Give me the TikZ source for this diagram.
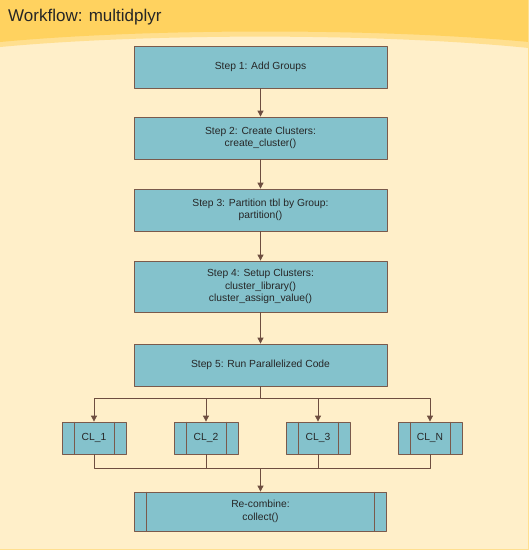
\documentclass[tikz,border=0pt]{standalone}
\usepackage{fontspec}
\setmainfont{Liberation Sans}
\usetikzlibrary{arrows.meta}
\definecolor{hdr}{HTML}{FFD25F}
\definecolor{hdrlight}{HTML}{FFDF8F}
\definecolor{paper}{HTML}{FFEFC9}
\definecolor{boxfill}{HTML}{84C2CC}
\definecolor{boxline}{HTML}{7A5A4C}
\definecolor{wirecol}{HTML}{6E4E40}
\tikzset{
	stepbox/.style={draw=boxline, fill=boxfill, line width=0.8pt, minimum width=253pt, minimum height=42pt, inner sep=0pt, align=center, text=black!85, font=\fontsize{10.3}{12.5}\selectfont},
	clbox/.style={stepbox, minimum width=64pt, minimum height=32pt},
	wire/.style={draw=wirecol, line width=0.8pt},
	flow/.style={wire, -{Triangle[width=6pt,length=6pt]}}
}
\begin{document}
\begin{tikzpicture}[x=1pt, y=-1pt, line join=round]
	\useasboundingbox (0,0) rectangle (529,550);
	% background and header band
	\fill[paper] (0,0) rectangle (529,550);
	\fill[hdrlight] (0,0) -- (0,47) .. controls (150,33) and (380,33) .. (529,48) -- (529,0) -- cycle;
	\fill[hdr] (0,0) -- (0,42) .. controls (150,28) and (380,28) .. (529,42) -- (529,0) -- cycle;
	\draw[hdrlight] (528.5,0) -- (528.5,549.5) -- (0,549.5);
	\node[anchor=base west, inner sep=0pt, text=black!85, font=\fontsize{17}{20}\selectfont] (title) at (8,21) {Workflow: multidplyr};
	% steps
	\node[stepbox] (s1) at (260.5,67) {Step 1: Add Groups};
	\node[stepbox] (s2) at (260.5,138) {Step 2: Create Clusters:\\create\_cluster()};
	\node[stepbox] (s3) at (260.5,210) {Step 3: Partition tbl by Group:\\partition()};
	\node[stepbox, minimum height=51pt] (s4) at (260.5,286.5) {Step 4: Setup Clusters:\\cluster\_library()\\cluster\_assign\_value()};
	\node[stepbox] (s5) at (260.5,365) {Step 5: Run Parallelized Code};
	% clusters
	\node[clbox] (cl1) at (94,438) {CL\_1};
	\node[clbox] (cl2) at (206,438) {CL\_2};
	\node[clbox] (cl3) at (318,438) {CL\_3};
	\node[clbox] (clN) at (430,438) {CL\_N};
	\node[stepbox, minimum width=252pt, minimum height=39pt] (rc) at (260.5,511.5) {Re-combine:\\collect()};
	\coordinate (merge) at (260.5,468);
	% side bars
	\foreach \c in {cl1,cl2,cl3,clN,rc}
	\draw[boxline, line width=0.8pt]
	([xshift=12.5pt]\c.north west) -- ([xshift=12.5pt]\c.south west)
	([xshift=-12.5pt]\c.north east) -- ([xshift=-12.5pt]\c.south east)
	;
	% connectors
	\foreach \a/\b in {s1/s2,s2/s3,s3/s4,s4/s5}
	\draw[flow] (\a) -- (\b);
	\foreach \c in {cl1,cl2,cl3,clN}
	{
		\draw[flow] (s5.south) -- ++(0,12) -| (\c.north);
		\draw[wire] (\c.south) |- (merge);
	}
	\draw[flow] (merge) -- (rc);
\end{tikzpicture}
\end{document}
